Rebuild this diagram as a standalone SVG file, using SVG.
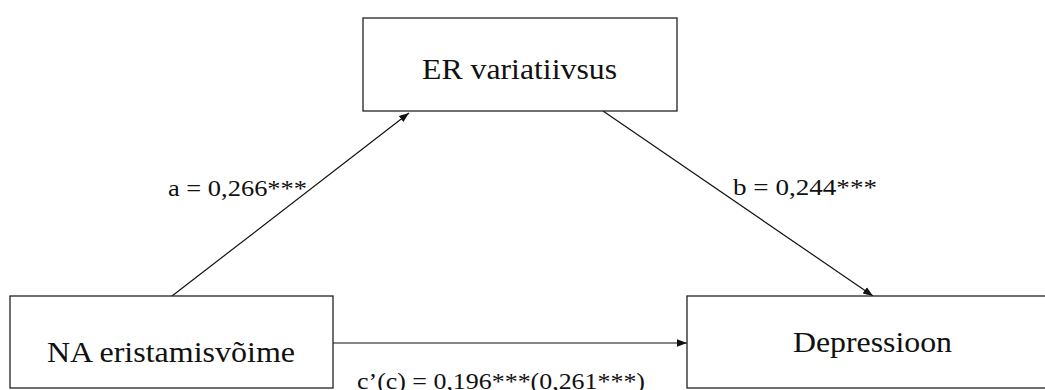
<svg xmlns="http://www.w3.org/2000/svg" width="1045" height="390" viewBox="0 0 1045 390">
  <style>
    .box { fill: #ffffff; stroke: #222222; stroke-width: 1.3; }
    .lbl { font-family: "Liberation Serif", "Times New Roman", serif; fill: #111111; }
    .node { font-size: 30px; }
    .edge { font-size: 24px; }
    .conn { stroke: #111111; stroke-width: 1.2; fill: none; marker-end: url(#arr); }
  </style>
  <defs>
    <marker id="arr" viewBox="0 0 10 10" refX="10" refY="5" markerWidth="10" markerHeight="10" markerUnits="userSpaceOnUse" orient="auto">
      <path d="M0,1.2 L10,5 L0,8.8 z" fill="#111111"/>
    </marker>
  </defs>
  <rect width="1045" height="390" fill="#ffffff"/>
  <g id="connectors">
    <line class="conn" x1="172" y1="296" x2="409" y2="113"/>
    <line class="conn" x1="603" y1="111" x2="873" y2="296"/>
    <line class="conn" x1="333" y1="343" x2="687" y2="343"/>
    <text class="lbl edge" x="168" y="196" textLength="139" lengthAdjust="spacingAndGlyphs">a = 0,266***</text>
    <text class="lbl edge" x="733" y="195" textLength="144" lengthAdjust="spacingAndGlyphs">b = 0,244***</text>
    <text class="lbl edge" x="357" y="389" textLength="288" lengthAdjust="spacingAndGlyphs">c’(c) = 0,196***(0,261***)</text>
  </g>
  <g id="node-er">
    <rect class="box" x="363" y="18" width="314" height="93"/>
    <text class="lbl node" x="422" y="79" textLength="195" lengthAdjust="spacingAndGlyphs">ER variatiivsus</text>
  </g>
  <g id="node-na">
    <rect class="box" x="10" y="296" width="323" height="92"/>
    <text class="lbl node" x="47" y="362" textLength="248" lengthAdjust="spacingAndGlyphs">NA eristamisvõime</text>
  </g>
  <g id="node-dep">
    <rect class="box" x="687" y="296" width="380" height="92"/>
    <text class="lbl node" x="793" y="352" textLength="159" lengthAdjust="spacingAndGlyphs">Depressioon</text>
  </g>
</svg>
